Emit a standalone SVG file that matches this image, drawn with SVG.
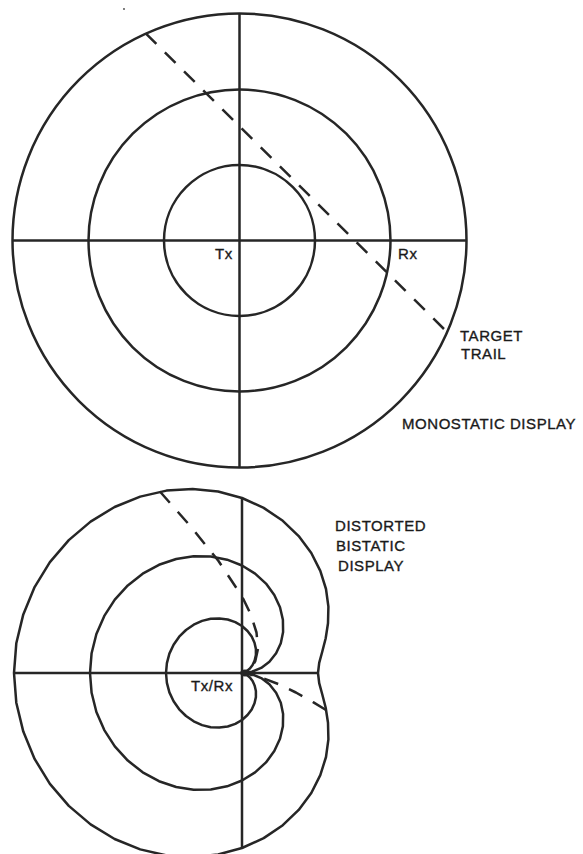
<svg xmlns="http://www.w3.org/2000/svg" width="583" height="854" viewBox="0 0 583 854">
<style>
.ln{fill:none;stroke:#262626;stroke-width:2.5;stroke-linejoin:round;stroke-linecap:butt}
.dash{fill:none;stroke:#262626;stroke-width:2.5;stroke-dasharray:15 12;stroke-linejoin:round}
.lbl{font-family:"Liberation Sans","Arial",sans-serif;font-size:15px;fill:#1a1a1a;stroke:#1a1a1a;stroke-width:0.35;letter-spacing:0.55px}
</style>
<rect width="583" height="854" fill="#fff"/>
<circle cx="124" cy="9" r="0.9" fill="#444"/>
<g id="monostatic-display">
  <g id="mono-rings">
    <circle class="ln" cx="239.5" cy="240.5" r="75.5"/>
    <circle class="ln" cx="239.5" cy="240.5" r="151"/>
    <circle class="ln" cx="239.5" cy="240.5" r="227"/>
  </g>
  <g id="mono-axes">
    <line class="ln" x1="239.5" y1="13.5" x2="239.5" y2="467.5"/>
    <line class="ln" x1="12.5" y1="240.5" x2="466.5" y2="240.5"/>
  </g>
  <g id="mono-trail">
    <line class="dash" x1="145.7" y1="33.3" x2="447" y2="332"/>
  </g>
  <g id="mono-labels">
    <text class="lbl" x="215" y="259">Tx</text>
    <text class="lbl" x="398" y="259">Rx</text>
    <text class="lbl" x="460" y="341">TARGET</text>
    <text class="lbl" x="461" y="359">TRAIL</text>
    <text class="lbl" x="402" y="429">MONOSTATIC DISPLAY</text>
  </g>
</g>
<g id="bistatic-display">
  <g id="bi-rings" transform="translate(0,1)">
    <path class="ln" d="M318,672 L319.2,661.8 322.3,650.5 325.7,637.3 328.0,622.3 328.4,605.7 326.0,588.0 320.3,569.9 311.3,552.0 298.7,535.1 282.8,519.8 263.7,506.9 242,497 218.1,490.5 192.7,488 166.5,489.6 140.2,495.6 114.6,506.0 90.6,520.6 68.8,539.1 49.9,561.1 34.6,586.1 23.3,613.4 16.3,642.3 14,672 16.3,701.7 23.3,730.6 34.6,757.9 49.9,782.9 68.8,804.9 90.6,823.4 114.6,838.0 140.2,848.4 166.5,854.4 192.7,856 218.1,853.5 242,847 263.7,837.1 282.8,824.2 298.7,808.9 311.3,792.0 320.3,774.1 326.0,756.0 328.4,738.3 328.0,721.7 325.7,706.7 322.3,693.5 319.2,682.2 Z"/>
    <path class="ln" d="M242,672 L251.9,670.7 261.2,666.9 269.4,660.7 276.1,652.3 280.8,642.3 283.1,630.9 282.9,618.7 280,606.2 274.3,594.0 266,582.6 255.1,572.6 242,564.5 227.1,558.7 210.8,555.5 193.6,555.2 176.2,558 159.0,563.8 142.7,572.7 127.8,584.4 114.8,598.6 104.3,614.9 96.4,633 91.6,652.2 90,672 91.6,691.8 96.4,711 104.3,729.1 114.8,745.4 127.8,759.6 142.7,771.3 159.0,780.2 176.2,786 193.6,788.8 210.8,788.5 227.1,785.3 242,779.5 255.1,771.4 266,761.4 274.3,750.0 280,737.8 282.9,725.3 283.1,713.1 280.8,701.7 276.1,691.7 269.4,683.3 261.2,677.1 251.9,673.3 Z"/>
    <path class="ln" d="M242,672 L244.4,671.4 247,669.9 249.9,667.5 252.6,663.9 254.7,659.3 255.9,653.9 255.9,647.9 254.5,641.7 251.7,635.6 247.5,630 242,625 235.3,621.1 227.7,618.5 219.4,617.4 210.7,617.8 202.1,619.9 193.7,623.7 186,629 179.2,635.7 173.6,643.7 169.4,652.6 166.9,662.1 166,672 166.9,681.9 169.4,691.4 173.6,700.3 179.2,708.3 186,715 193.7,720.3 202.1,724.1 210.7,726.2 219.4,726.6 227.7,725.5 235.3,722.9 242,719 247.5,714 251.7,708.4 254.5,702.3 255.9,696.1 255.9,690.1 254.7,684.7 252.6,680.1 249.9,676.5 247,674.1 244.4,672.6 Z"/>
  </g>
  <g id="bi-axes" transform="translate(0,1)">
    <line class="ln" x1="242" y1="497" x2="242" y2="847"/>
    <line class="ln" x1="13" y1="672" x2="318" y2="672"/>
    <ellipse cx="245" cy="672" rx="5" ry="3.5" fill="#262626"/>
  </g>
  <g id="bi-trail" transform="translate(0,1)">
    <path class="dash" d="M159.9,490.5 L191.3,526.2 218.5,560.0 242,595.4 250.9,613.7 256.5,631.5 258,647.7 255.3,660.1 251.5,666.5 248,669.7 244,671.7 242,672 248,672.9 261.5,676.6 278.4,683.1 295.9,691.5 313.5,701.4 325.8,708.9"/>
  </g>
  <g id="bi-labels">
    <text class="lbl" x="233" y="691" text-anchor="end" letter-spacing="1.2">Tx/Rx</text>
    <text class="lbl" x="335" y="531">DISTORTED</text>
    <text class="lbl" x="336" y="551">BISTATIC</text>
    <text class="lbl" x="338" y="571">DISPLAY</text>
  </g>
</g>
</svg>
